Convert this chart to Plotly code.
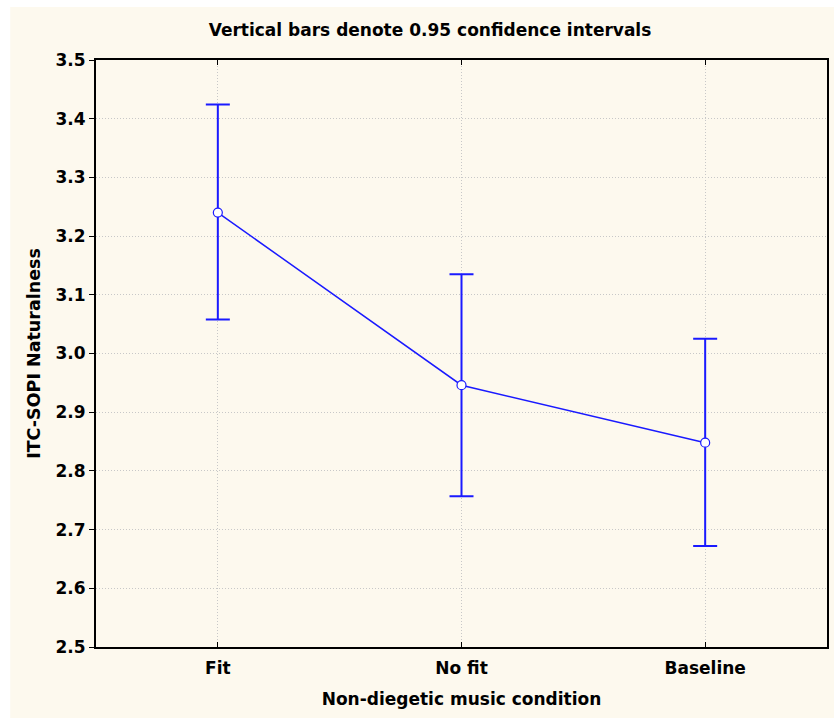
import plotly.graph_objects as go

# Condition means with 95% confidence limits
conditions = ["Fit", "No fit", "Baseline"]
means = [3.240, 2.946, 2.848]
upper = [3.424, 3.135, 3.025]
lower = [3.058, 2.757, 2.672]
yticks = [2.5, 2.6, 2.7, 2.8, 2.9, 3.0, 3.1, 3.2, 3.3, 3.4, 3.5]

err_plus = [u - m for u, m in zip(upper, means)]
err_minus = [m - l for m, l in zip(means, lower)]

BLUE = "#1a1aff"
CREAM = "#fdf9ee"
FONT = "DejaVu Sans, Verdana, sans-serif"

W, H = 834, 718
L, R, T, B = 96, 5, 60, 71
pw, ph = W - L - R, H - T - B


def px_x(p):
    return (p - L) / pw


def px_y(p):
    return (H - B - p) / ph


fig = go.Figure()
fig.add_trace(go.Scatter(
    x=list(range(len(conditions))),
    y=means,
    mode="lines+markers",
    line=dict(color=BLUE, width=1.5),
    marker=dict(symbol="circle", size=9, color="white",
                line=dict(color=BLUE, width=1.2)),
    error_y=dict(type="data", symmetric=False, array=err_plus,
                 arrayminus=err_minus, color=BLUE, thickness=2, width=12),
    showlegend=False,
))

fig.update_layout(
    width=W, height=H,
    margin=dict(l=L, r=R, t=T, b=B),
    paper_bgcolor="white",
    plot_bgcolor="white",
    font=dict(family=FONT, color="black"),
    title=dict(text="<b>Vertical bars denote 0.95 confidence intervals</b>",
               x=430 / W, xanchor="center",
               y=1 - 30 / H, yanchor="middle",
               font=dict(size=17)),
    shapes=[dict(type="rect", xref="paper", yref="paper",
                 x0=px_x(10), x1=px_x(W + 20), y0=px_y(H + 20), y1=px_y(7),
                 fillcolor=CREAM, line=dict(width=0), layer="below")],
)

fig.update_xaxes(
    range=[-0.5, 2.5],
    tickvals=list(range(len(conditions))),
    ticktext=[f"<b>{c}</b>" for c in conditions],
    tickfont=dict(size=17),
    ticklabelstandoff=5,
    ticks="inside", ticklen=5, tickcolor="black", tickwidth=1,
    showgrid=True, gridcolor="#c8c8c8", griddash="1px,2px", gridwidth=1,
    showline=True, linecolor="black", linewidth=2, mirror="ticks",
    zeroline=False,
    title=dict(text="<b>Non-diegetic music condition</b>", font=dict(size=17),
               standoff=16),
)
fig.update_yaxes(
    range=[2.5, 3.5],
    tickvals=yticks,
    ticktext=[f"<b>{v:.1f}</b>" for v in yticks],
    tickfont=dict(size=17),
    ticks="outside", ticklen=5, tickcolor="black", tickwidth=1,
    showgrid=True, gridcolor="#c8c8c8", griddash="1px,2px", gridwidth=1,
    showline=True, linecolor="black", linewidth=2, mirror=True,
    zeroline=False,
    title=dict(text="<b>ITC-SOPI Naturalness</b>", font=dict(size=17.5),
               standoff=10),
)

fig.write_html("out.html")
